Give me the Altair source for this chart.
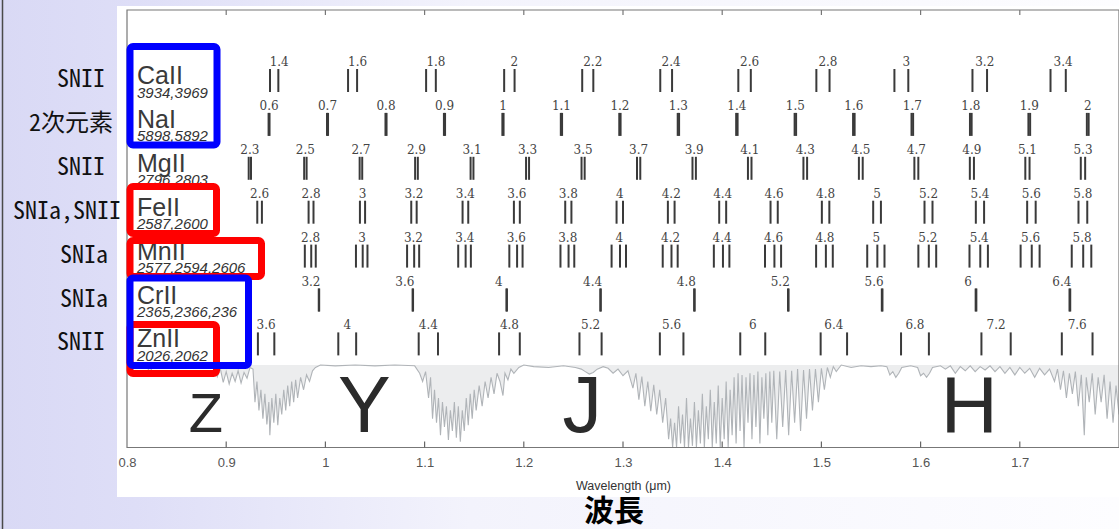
import altair as alt
import pandas as pd

# ---- absorption-line rows -------------------------------------------------
ions = ["CaII", "NaI", "MgII", "FeII", "MnII", "CrII", "ZnII"]
rest_text = ["3934,3969", "5898,5892", "2796,2803", "2587,2600",
             "2577,2594,2606", "2365,2366,236", "2026,2062"]
rest_lines = [[3934, 3969], [5898, 5892], [2796, 2803], [2587, 2600],
              [2577, 2594, 2606], [2365, 2366], [2026, 2062]]
sn_source = ["SNII", "2次元素", "SNII", "SNIa,SNII", "SNIa", "SNIa", "SNII"]

z_ca = [1.4, 1.6, 1.8, 2, 2.2, 2.4, 2.6, 2.8, 3, 3.2, 3.4]
z_na = [0.6, 0.7, 0.8, 0.9, 1, 1.1, 1.2, 1.3, 1.4, 1.5, 1.6, 1.7, 1.8, 1.9, 2]
z_mg = [2.3, 2.5, 2.7, 2.9, 3.1, 3.3, 3.5, 3.7, 3.9, 4.1, 4.3, 4.5, 4.7, 4.9, 5.1, 5.3]
z_fe = [2.6, 2.8, 3, 3.2, 3.4, 3.6, 3.8, 4, 4.2, 4.4, 4.6, 4.8, 5, 5.2, 5.4, 5.6, 5.8]
z_mn = [2.8, 3, 3.2, 3.4, 3.6, 3.8, 4, 4.2, 4.4, 4.6, 4.8, 5, 5.2, 5.4, 5.6, 5.8]
z_cr = [3.2, 3.6, 4, 4.4, 4.8, 5.2, 5.6, 6, 6.4]
z_zn = [3.6, 4, 4.4, 4.8, 5.2, 5.6, 6, 6.4, 6.8, 7.2, 7.6]
redshifts = [z_ca, z_na, z_mg, z_fe, z_mn, z_cr, z_zn]

# ---- atmospheric transmission (wavelength in micron, transmission 0..1) ----
atm_wavelength = [
    0.800, 0.820, 0.823, 0.826, 0.850, 0.870, 0.888,
    0.891, 0.894, 0.897, 0.900, 0.903, 0.906, 0.909, 0.912, 0.915, 0.918, 0.921, 0.924,
    0.927, 0.929, 0.931, 0.933, 0.935, 0.937, 0.939, 0.941, 0.943, 0.944,
    0.946, 0.948, 0.950, 0.952, 0.954, 0.956, 0.958, 0.960, 0.962, 0.964,
    0.966, 0.968, 0.970, 0.972, 0.975, 0.978, 0.981, 0.984, 0.987, 0.990, 0.995,
    1.010, 1.030, 1.050, 1.070, 1.090,
    1.095, 1.098, 1.101, 1.104, 1.106, 1.108, 1.110, 1.112, 1.114, 1.116,
    1.118, 1.120, 1.122, 1.124, 1.126, 1.128, 1.130, 1.132, 1.134, 1.136,
    1.138, 1.140, 1.142, 1.144, 1.146, 1.148, 1.150, 1.152, 1.155, 1.158,
    1.161, 1.164, 1.167, 1.170, 1.173, 1.176, 1.179, 1.181, 1.184, 1.187,
    1.190, 1.195, 1.200,
    1.210, 1.225, 1.240, 1.252, 1.258, 1.262, 1.266, 1.270, 1.274, 1.280,
    1.285, 1.290, 1.295, 1.300, 1.305, 1.310, 1.313, 1.316, 1.319, 1.322,
    1.325, 1.328, 1.331, 1.334, 1.337, 1.340, 1.343, 1.346, 1.348, 1.350,
    1.352, 1.354, 1.356, 1.358, 1.360, 1.362, 1.364, 1.366, 1.368, 1.370,
    1.372, 1.374, 1.376, 1.378, 1.380, 1.382, 1.384, 1.386, 1.388, 1.390,
    1.392, 1.394, 1.396, 1.398, 1.400, 1.402, 1.404, 1.406, 1.408, 1.410,
    1.412, 1.414, 1.416, 1.418, 1.420, 1.422, 1.424, 1.426, 1.428, 1.430,
    1.432, 1.434, 1.436, 1.438, 1.440, 1.442, 1.444, 1.446, 1.448, 1.450,
    1.452, 1.455, 1.458, 1.461, 1.464, 1.467, 1.470, 1.473, 1.476, 1.479,
    1.482, 1.485, 1.488, 1.491, 1.494, 1.497, 1.500, 1.503, 1.506, 1.509,
    1.512, 1.515, 1.520,
    1.530, 1.540, 1.550, 1.560, 1.566, 1.569, 1.572, 1.575, 1.578, 1.581,
    1.590, 1.597, 1.600, 1.603, 1.606, 1.609, 1.612, 1.620,
    1.625, 1.630, 1.635, 1.640, 1.645, 1.650, 1.655, 1.660, 1.665, 1.670,
    1.675, 1.680, 1.685, 1.690, 1.695, 1.700, 1.705, 1.710, 1.715, 1.720,
    1.725, 1.730, 1.735,
    1.738, 1.741, 1.744, 1.747, 1.750, 1.753, 1.756, 1.759, 1.762, 1.765,
    1.767, 1.770, 1.773, 1.776, 1.779, 1.782, 1.785, 1.788, 1.791, 1.794,
    1.797, 1.800,
]
atm_transmission = [
    1.00, 0.99, 0.90, 0.99, 1.00, 0.99, 1.00,
    0.86, 0.96, 0.79, 0.92, 0.77, 0.90, 0.80, 0.93, 0.78, 0.91, 0.84, 0.97,
    0.95, 0.55, 0.80, 0.45, 0.70, 0.35, 0.65, 0.28, 0.55, 0.15,
    0.60, 0.30, 0.65, 0.27, 0.60, 0.40, 0.70, 0.45, 0.75, 0.50,
    0.80, 0.55, 0.82, 0.60, 0.85, 0.70, 0.88, 0.80, 0.93, 0.97, 1.00,
    0.99, 1.00, 0.99, 1.00, 0.99,
    0.90, 0.80, 0.92, 0.60, 0.85, 0.35, 0.70, 0.30, 0.60, 0.15,
    0.55, 0.25, 0.50, 0.09, 0.45, 0.20, 0.55, 0.12, 0.50, 0.07,
    0.45, 0.20, 0.60, 0.27, 0.65, 0.35, 0.70, 0.45, 0.75, 0.50,
    0.80, 0.60, 0.85, 0.65, 0.90, 0.80, 0.63, 0.90, 0.82, 0.95,
    0.90, 0.97, 1.00,
    0.98, 0.97, 0.99, 0.97, 0.95, 0.92, 0.89, 0.91, 0.95, 0.98,
    0.96, 0.90, 0.95, 0.87, 0.93, 0.72, 0.90, 0.58, 0.86, 0.50,
    0.80, 0.44, 0.76, 0.40, 0.70, 0.30, 0.60, 0.10, 0.35, 0.00,
    0.30, 0.00, 0.50, 0.05, 0.40, 0.00, 0.60, 0.00, 0.35, 0.02,
    0.55, 0.00, 0.45, 0.05, 0.65, 0.00, 0.50, 0.10, 0.70, 0.00,
    0.55, 0.05, 0.75, 0.00, 0.60, 0.10, 0.80, 0.00, 0.70, 0.15,
    0.85, 0.05, 0.90, 0.20, 0.88, 0.00, 0.85, 0.30, 0.90, 0.10,
    0.88, 0.25, 0.92, 0.05, 0.85, 0.35, 0.90, 0.15, 0.92, 0.30,
    0.93, 0.10, 0.92, 0.25, 0.94, 0.15, 0.93, 0.30, 0.95, 0.20,
    0.94, 0.35, 0.95, 0.45, 0.95, 0.55, 0.96, 0.70, 0.97, 0.85,
    0.98, 0.92, 1.00,
    0.97, 0.99, 0.98, 0.99, 0.98, 0.88, 0.92, 0.85, 0.90, 0.97,
    0.99, 0.97, 0.87, 0.90, 0.85, 0.90, 0.97, 0.99,
    0.95, 0.99, 0.90, 0.98, 0.93, 0.99, 0.92, 0.98, 0.94, 0.99,
    0.92, 0.98, 0.90, 0.97, 0.88, 0.97, 0.90, 0.96, 0.85, 0.96,
    0.88, 0.95, 0.80,
    0.95, 0.70, 0.93, 0.60, 0.90, 0.65, 0.92, 0.50, 0.88, 0.15,
    0.85, 0.55, 0.90, 0.40, 0.85, 0.55, 0.88, 0.35, 0.80, 0.30,
    0.75, 0.40,
]

# photometric band letters and where they sit on the wavelength axis
band_names = ["Z", "Y", "J", "H"]
band_centers = [0.8796, 1.0392, 1.259, 1.649]

axis_ticks = [0.8, 0.9, 1.0, 1.1, 1.2, 1.3, 1.4, 1.5, 1.6, 1.7]

# ---- layout ---------------------------------------------------------------
CANVAS_W, CANVAS_H = 1119, 529
LEFT, TOP = 127, 10
W, H = 992, 437.5
ROW0, ROW_STEP, TICK_LEN = 59, 43.9, 23
ATM_TOP_PX = 82.5            # height of transmission = 1 above the x axis

label_dx = {"CaII": 5, "CrII": -8}
src_label_right = [105, 113, 105, 121, 108, 108, 105]   # right edge, canvas px

# ---- tables ---------------------------------------------------------------
line_recs, lab_recs = [], []
for i, (ion, lines, zs) in enumerate(zip(ions, rest_lines, redshifts)):
    for z in zs:
        obs = [w * (1 + z) / 1e4 for w in lines]
        for o in obs:
            line_recs.append({"ion": ion, "row": i, "wl": o})
        lab_recs.append({"ion": ion, "row": i, "wl": sum(obs) / len(obs),
                         "zlab": f"{z:g}"})
lines_df = pd.DataFrame(line_recs)
labels_df = pd.DataFrame(lab_recs)
rows_df = pd.DataFrame({"row": list(range(len(ions))), "ion": ions,
                        "rest": rest_text, "src": sn_source,
                        "xr": [r - LEFT for r in src_label_right]})
atm_df = pd.DataFrame({"wl": atm_wavelength, "t": atm_transmission})
bands_df = pd.DataFrame({"wl": band_centers, "band": band_names})
ticks_df = pd.DataFrame({"wl": axis_ticks[1:]})
one = pd.DataFrame({"k": [0]})

# ---- scales / encodings ---------------------------------------------------
xscale = alt.Scale(domain=[0.8, 1.8], nice=False, zero=False)
row_scale = alt.Scale(domain=[-ROW0 / ROW_STEP, (H - ROW0) / ROW_STEP],
                      reverse=True, nice=False, zero=False)
atm_scale = alt.Scale(domain=[0, H / ATM_TOP_PX], nice=False, zero=False)

x_axis = alt.Axis(values=axis_ticks, format="~g", ticks=False, domain=False,
                  grid=False, labelFont="Liberation Sans", labelFontSize=13,
                  labelColor="#555555", labelPadding=9, labelFlush=False,
                  title="Wavelength (μm)", titleFont="Liberation Sans",
                  titleFontSize=12.5, titleFontWeight="normal",
                  titleColor="#333333", titlePadding=10, zindex=5)


def xq(field="wl"):
    return alt.X(f"{field}:Q", scale=xscale, axis=x_axis)


def yrow():
    return alt.Y("row:Q", scale=row_scale, axis=None)


# ---- background of the slide ----------------------------------------------
slide_grad = {
    "gradient": "linear", "x1": 0, "y1": 0, "x2": 1, "y2": 0,
    "stops": [{"offset": 0, "color": "#d9d9f5"},
              {"offset": 0.12, "color": "#dedef7"},
              {"offset": 0.42, "color": "#f3f3fc"},
              {"offset": 1, "color": "#fdfdff"}],
}
bg = alt.Chart(one).mark_rect(fill=slide_grad).encode(
    x=alt.value(-LEFT), x2=alt.value(CANVAS_W - LEFT),
    y=alt.value(-TOP), y2=alt.value(CANVAS_H - TOP))
panel = alt.Chart(one).mark_rect(fill="white").encode(
    x=alt.value(-10), x2=alt.value(W + 5), y=alt.value(-4), y2=alt.value(487))
edge = alt.Chart(one).mark_rule(color="#4a4a4a", strokeWidth=1.5).encode(
    x=alt.value(2.5 - LEFT), y=alt.value(-TOP), y2=alt.value(CANVAS_H - TOP))

# ---- atmospheric transmission ---------------------------------------------
atm_area = alt.Chart(atm_df).mark_area(color="#c3c7cb", opacity=0.32).encode(
    x=xq(), y=alt.Y("t:Q", scale=atm_scale, axis=None), y2=alt.datum(1))
atm_line = alt.Chart(atm_df).mark_line(color="#b0b4b8", strokeWidth=1.1).encode(
    x=xq(), y=alt.Y("t:Q", scale=atm_scale, axis=None))

# ---- frame with inward ticks ----------------------------------------------
frame = alt.Chart(one).mark_rect(filled=False, stroke="#777777", strokeWidth=1.2).encode(
    x=alt.value(0), x2=alt.value(W), y=alt.value(0), y2=alt.value(H))
ticks_bottom = alt.Chart(ticks_df).mark_rule(color="#666666", strokeWidth=1.2).encode(
    x=xq(), y=alt.value(H), y2=alt.value(H - 6))
ticks_top = alt.Chart(ticks_df).mark_rule(color="#777777", strokeWidth=1.2).encode(
    x=xq(), y=alt.value(0), y2=alt.value(5))

# ---- redshifted line markers ----------------------------------------------
markers = alt.Chart(lines_df).mark_rule(color="#3a3a3a", strokeWidth=2,
                                        y2Offset=TICK_LEN).encode(
    x=xq(), y=yrow(), y2="row:Q")

z_layers = []
for ion in ions:
    z_layers.append(
        alt.Chart(labels_df).transform_filter(alt.datum.ion == ion)
        .mark_text(font="DejaVu Serif", fontSize=12, color="#444444",
                   align="center", baseline="alphabetic", dy=-3,
                   dx=label_dx.get(ion, 0))
        .encode(x=xq(), y=yrow(), text="zlab:N"))

ion_names = alt.Chart(rows_df).mark_text(
    font="Liberation Sans", fontSize=25, color="#3a3a3a", align="left",
    baseline="alphabetic", dy=15).encode(
    x=alt.value(10), y=yrow(), text="ion:N")
ion_rest = alt.Chart(rows_df).mark_text(
    font="Liberation Sans", fontSize=15, fontStyle="italic", color="#333333",
    align="left", baseline="alphabetic", dy=28.5).encode(
    x=alt.value(10), y=yrow(), text="rest:N")

src_labels = alt.Chart(rows_df).mark_text(
    font="Noto Sans Mono CJK JP, Noto Sans CJK JP, monospace", fontSize=24,
    color="#111111", align="right", baseline="alphabetic", dy=18).encode(
    x=alt.X("xr:Q", scale=None), y=yrow(), text="src:N")

# ---- band letters ----------------------------------------------------------
band_z = alt.Chart(bands_df).transform_filter(alt.datum.band == "Z").mark_text(
    font="Liberation Sans", fontSize=56, color="#2b2b2b", align="center",
    baseline="alphabetic").encode(x=xq(), y=alt.value(422), text="band:N")
band_rest = alt.Chart(bands_df).transform_filter(alt.datum.band != "Z").mark_text(
    font="Liberation Sans", fontSize=79, color="#2b2b2b", align="center",
    baseline="alphabetic").encode(x=xq(), y=alt.value(422), text="band:N")

# ---- highlight boxes (red first, blue on top) -------------------------------
box_specs = [
    ("#ff0000", 130, 186.5, 216.5, 233.5),
    ("#ff0000", 130, 240.5, 261.5, 276.5),
    ("#ff0000", 130, 324.5, 216.5, 373.5),
    ("#0000ff", 130, 46.5, 217, 145),
    ("#0000ff", 130, 278, 248.5, 365.5),
]
box_layers = [
    alt.Chart(one).mark_rect(filled=False, stroke=c, strokeWidth=7,
                             cornerRadius=3, strokeJoin="round").encode(
        x=alt.value(x0 - LEFT), x2=alt.value(x1 - LEFT),
        y=alt.value(y0 - TOP), y2=alt.value(y1 - TOP))
    for c, x0, y0, x1, y1 in box_specs
]

hachou = alt.Chart(one).mark_text(
    text="波長", font="Noto Sans CJK JP", fontSize=30, fontWeight="bold",
    color="#000000", align="center", baseline="middle").encode(
    x=alt.value(614 - LEFT), y=alt.value(512 - TOP))

chart = alt.layer(
    bg, panel, edge, atm_area, atm_line, frame, ticks_bottom, ticks_top,
    markers, *z_layers, ion_names, ion_rest, band_z, band_rest,
    *box_layers, src_labels, hachou,
).resolve_scale(y="independent").properties(
    width=W, height=H,
    padding={"left": LEFT, "top": TOP, "right": 0, "bottom": CANVAS_H - TOP - H},
    autosize=alt.AutoSizeParams(type="none"),
    background="white",
).configure_view(strokeWidth=0)

chart.save("out.html", embed_options={"renderer": "svg", "actions": False})
